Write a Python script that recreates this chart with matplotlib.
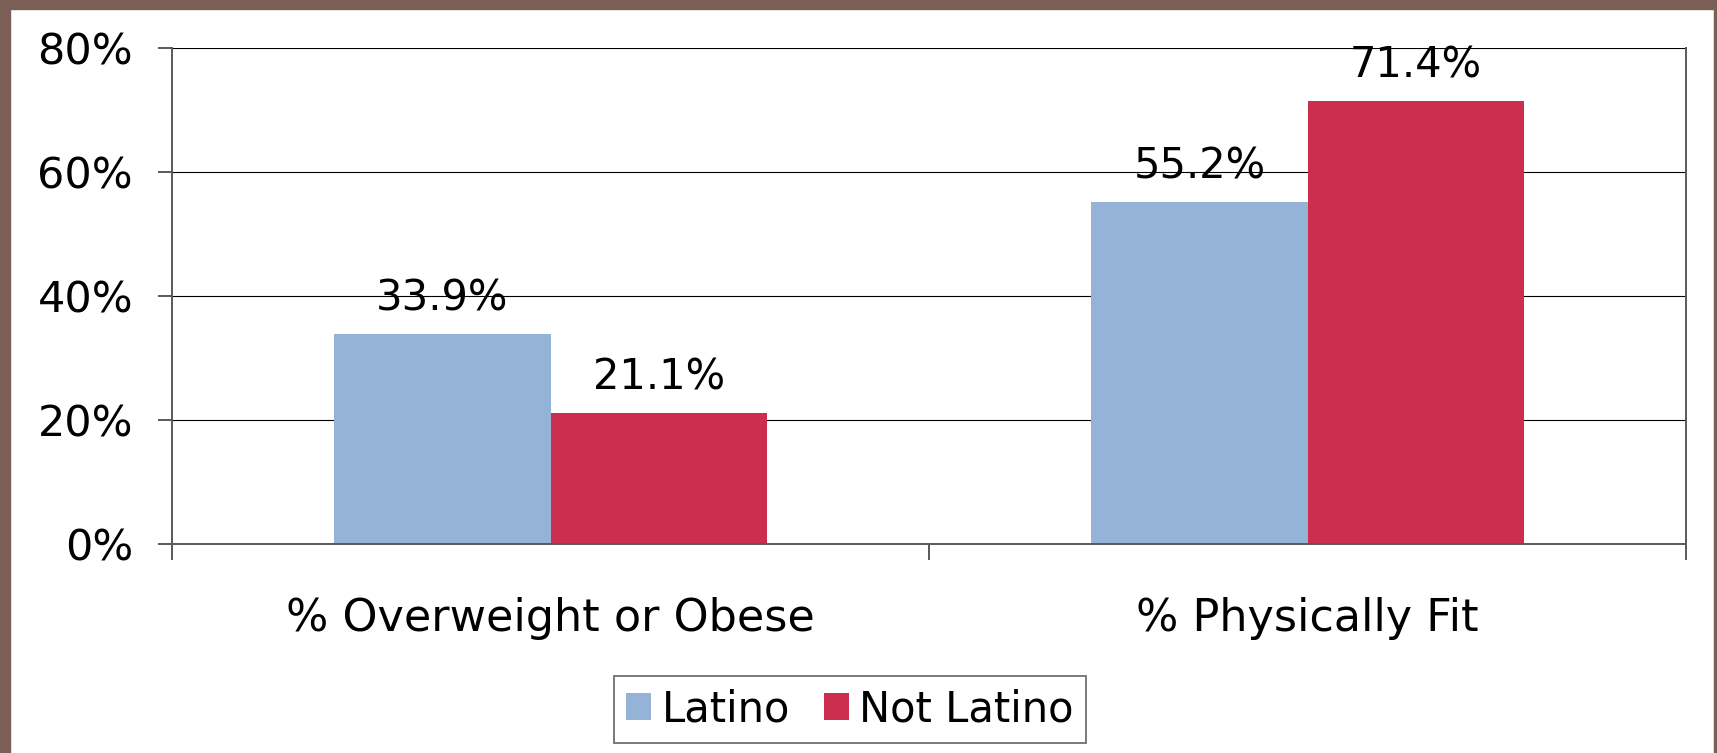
import matplotlib
matplotlib.use('Agg')
from matplotlib import pyplot as plt
from matplotlib.patches import Patch, Rectangle
import numpy as np

categories = ['% Overweight or Obese', '% Physically Fit']
latino = [33.9, 55.2]
not_latino = [21.1, 71.4]
series_names = ['Latino', 'Not Latino']
colors = ['#95B3D7', '#CC2E4F']
yticks = [0, 20, 40, 60, 80]

plt.rcParams['font.family'] = ['DejaVu Sans']

fig = plt.figure(figsize=(17.17, 7.53), dpi=100)
ax = fig.add_axes([172 / 1717, 209 / 753, (1686 - 172) / 1717, (544 - 48) / 753])

# brown frame round the slide (left, top, right only)
frame = '#7B5E55'
fig.patches.append(Rectangle((0, 0), 10 / 1717, 1, transform=fig.transFigure, color=frame, zorder=0))
fig.patches.append(Rectangle((0, 1 - 9 / 753), 1, 9 / 753, transform=fig.transFigure, color=frame, zorder=0))
fig.patches.append(Rectangle((1 - 3 / 1717, 0), 3 / 1717, 1, transform=fig.transFigure, color=frame, zorder=0))

x = np.arange(len(categories))
w = 1 / 3.5
for vals, name, c, off in [(latino, series_names[0], colors[0], -w / 2),
                           (not_latino, series_names[1], colors[1], w / 2)]:
    bars = ax.bar(x + off, vals, width=w, color=c, label=name, zorder=2)
    for b, v in zip(bars, vals):
        ax.annotate('{:.1f}%'.format(v), (b.get_x() + b.get_width() / 2, v),
                    xytext=(0, 17), textcoords='offset points',
                    ha='center', va='baseline', fontsize=30, zorder=3)

ax.set_xlim(-0.5, len(categories) - 0.5)
ax.set_ylim(0, 80)
ax.set_yticks(yticks)
ax.set_yticklabels(['{}%'.format(t) for t in yticks], fontsize=31)
ax.yaxis.grid(True, color='black', linewidth=0.8, zorder=0)
ax.set_axisbelow(True)

ax.set_xticks([-0.5, 0.5, 1.5])
ax.set_xticklabels([])
ax.set_xticks(x, minor=True)
ax.set_xticklabels(categories, minor=True, fontsize=32)
ax.tick_params(axis='x', which='minor', length=0, pad=38)
ax.tick_params(axis='x', which='major', length=11.5, width=1.4, color='#595959')
ax.tick_params(axis='y', length=10, width=1.4, color='#595959', pad=18)

ax.spines['top'].set_visible(False)
for s in ['left', 'right', 'bottom']:
    ax.spines[s].set_color('#595959')
    ax.spines[s].set_linewidth(1.4)

handles = [Patch(facecolor=c, edgecolor='none') for c in colors]
leg = fig.legend(handles, series_names, loc='center', bbox_to_anchor=(850 / 1717, 1 - 709 / 753),
                 ncol=2, fontsize=30, frameon=True, fancybox=False, edgecolor='#595959',
                 handlelength=0.6, handleheight=0.6, handletextpad=0.25, columnspacing=0.8,
                 borderpad=0.3)
leg.get_frame().set_linewidth(1.4)

fig.savefig('out.png', dpi=100)
